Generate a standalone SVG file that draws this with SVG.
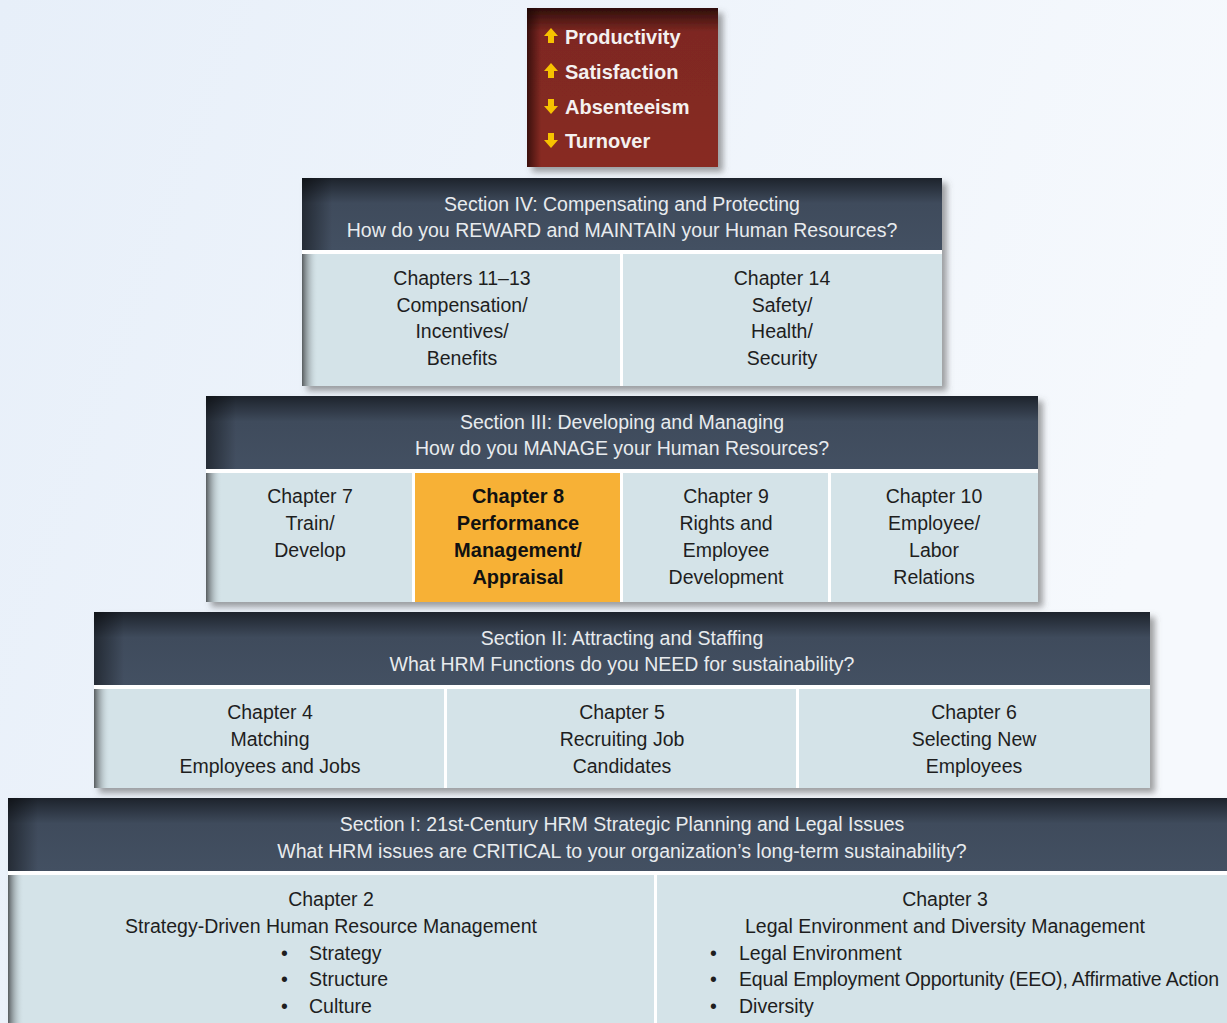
<svg xmlns="http://www.w3.org/2000/svg" width="1227" height="1023" viewBox="0 0 1227 1023">
<defs>
<linearGradient id="bg" x1="0" y1="0" x2="1" y2="0.3">
<stop offset="0" stop-color="#e7eff9"/>
<stop offset="1" stop-color="#f6f9fd"/>
</linearGradient>
<linearGradient id="hdrV" x1="0" y1="0" x2="0" y2="1">
<stop offset="0" stop-color="#1d232c"/>
<stop offset="0.35" stop-color="#3f4b5c"/>
<stop offset="1" stop-color="#435062"/>
</linearGradient>
<linearGradient id="hdrL" x1="0" y1="0" x2="1" y2="0">
<stop offset="0" stop-color="#000" stop-opacity="0.45"/>
<stop offset="1" stop-color="#000" stop-opacity="0"/>
</linearGradient>
<linearGradient id="cellL" x1="0" y1="0" x2="1" y2="0">
<stop offset="0" stop-color="#575c5f" stop-opacity="1"/>
<stop offset="1" stop-color="#d4e3e8" stop-opacity="0"/>
</linearGradient>
<linearGradient id="redV" x1="0" y1="0" x2="0" y2="1">
<stop offset="0" stop-color="#2e0e0b"/>
<stop offset="0.15" stop-color="#7e2822"/>
<stop offset="1" stop-color="#882a24"/>
</linearGradient>
<linearGradient id="redL" x1="0" y1="0" x2="1" y2="0">
<stop offset="0" stop-color="#1a0504" stop-opacity="0.7"/>
<stop offset="1" stop-color="#1a0504" stop-opacity="0"/>
</linearGradient>
<filter id="sh" x="-5%" y="-5%" width="115%" height="120%">
<feDropShadow dx="5" dy="5" stdDeviation="3" flood-color="#555" flood-opacity="0.55"/>
</filter>
<path id="up" d="M0,-8 L7,0 L3,0 L3,7 L-3,7 L-3,0 L-7,0 Z"/>
<path id="down" d="M0,8 L7,0 L3,0 L3,-7 L-3,-7 L-3,0 L-7,0 Z"/>
</defs>
<style>
.hdr{font-family:"Liberation Sans",Arial,sans-serif;font-size:19.5px;fill:#e8ebee;text-anchor:middle}
.cell{font-family:"Liberation Sans",Arial,sans-serif;font-size:19.5px;fill:#1e1e1e;text-anchor:middle}
.lft{font-family:"Liberation Sans",Arial,sans-serif;font-size:19.5px;fill:#1e1e1e}
.bold{font-family:"Liberation Sans",Arial,sans-serif;font-size:20px;font-weight:bold;fill:#111;text-anchor:middle}
.red{font-family:"Liberation Sans",Arial,sans-serif;font-size:20px;font-weight:bold;fill:#f4f1f0}
.cbg{fill:#d4e3e8}
.hb{fill:url(#hdrV)}
.hl{fill:url(#hdrL)}
.cl{fill:url(#cellL)}
.arr{fill:#f7c200}
</style>
<rect width="1227" height="1023" fill="url(#bg)"/>
<g id="connectors"/>

<g id="outcomes">
<rect x="527" y="8" width="191" height="159" fill="url(#redV)" filter="url(#sh)"/>
<rect x="527" y="8" width="14" height="159" fill="url(#redL)"/>
<use href="#up" class="arr" x="551" y="36"/>
<text class="red" x="565" y="44">Productivity</text>
<use href="#up" class="arr" x="551" y="71"/>
<text class="red" x="565" y="79">Satisfaction</text>
<use href="#down" class="arr" x="551" y="106"/>
<text class="red" x="565" y="114">Absenteeism</text>
<use href="#down" class="arr" x="551" y="140"/>
<text class="red" x="565" y="148">Turnover</text>
</g>

<g id="section4">
<rect x="302" y="178" width="640" height="208" fill="#fff" filter="url(#sh)"/>
<rect x="302" y="178" width="640" height="72" class="hb"/>
<rect x="302" y="178" width="30" height="72" class="hl"/>
<text class="hdr" x="622" y="211">Section IV: Compensating and Protecting</text>
<text class="hdr" x="622" y="237">How do you REWARD and MAINTAIN your Human Resources?</text>
<g id="ch11-13">
<rect x="302" y="254" width="318" height="132" class="cbg"/>
<rect x="302" y="254" width="16" height="132" class="cl"/>
<text class="cell" x="462" y="285">Chapters 11–13</text>
<text class="cell" x="462" y="312">Compensation/</text>
<text class="cell" x="462" y="338">Incentives/</text>
<text class="cell" x="462" y="365">Benefits</text>
</g>
<g id="ch14">
<rect x="623" y="254" width="319" height="132" class="cbg"/>
<text class="cell" x="782" y="285">Chapter 14</text>
<text class="cell" x="782" y="312">Safety/</text>
<text class="cell" x="782" y="338">Health/</text>
<text class="cell" x="782" y="365">Security</text>
</g>
</g>

<g id="section3">
<rect x="206" y="396" width="832" height="206" fill="#fff" filter="url(#sh)"/>
<rect x="206" y="396" width="832" height="73" class="hb"/>
<rect x="206" y="396" width="30" height="73" class="hl"/>
<text class="hdr" x="622" y="429">Section III: Developing and Managing</text>
<text class="hdr" x="622" y="455">How do you MANAGE your Human Resources?</text>
<g id="ch7">
<rect x="206" y="473" width="206" height="129" class="cbg"/>
<rect x="206" y="473" width="16" height="129" class="cl"/>
<text class="cell" x="310" y="503">Chapter 7</text>
<text class="cell" x="310" y="530">Train/</text>
<text class="cell" x="310" y="557">Develop</text>
</g>
<g id="ch8">
<rect x="415" y="473" width="205" height="129" fill="#f7b136"/>
<text class="bold" x="518" y="503">Chapter 8</text>
<text class="bold" x="518" y="530">Performance</text>
<text class="bold" x="518" y="557">Management/</text>
<text class="bold" x="518" y="584">Appraisal</text>
</g>
<g id="ch9">
<rect x="623" y="473" width="205" height="129" class="cbg"/>
<text class="cell" x="726" y="503">Chapter 9</text>
<text class="cell" x="726" y="530">Rights and</text>
<text class="cell" x="726" y="557">Employee</text>
<text class="cell" x="726" y="584">Development</text>
</g>
<g id="ch10">
<rect x="831" y="473" width="207" height="129" class="cbg"/>
<text class="cell" x="934" y="503">Chapter 10</text>
<text class="cell" x="934" y="530">Employee/</text>
<text class="cell" x="934" y="557">Labor</text>
<text class="cell" x="934" y="584">Relations</text>
</g>
</g>

<g id="section2">
<rect x="94" y="612" width="1056" height="176" fill="#fff" filter="url(#sh)"/>
<rect x="94" y="612" width="1056" height="73" class="hb"/>
<rect x="94" y="612" width="30" height="73" class="hl"/>
<text class="hdr" x="622" y="645">Section II: Attracting and Staffing</text>
<text class="hdr" x="622" y="671">What HRM Functions do you NEED for sustainability?</text>
<g id="ch4">
<rect x="94" y="689" width="350" height="99" class="cbg"/>
<rect x="94" y="689" width="16" height="99" class="cl"/>
<text class="cell" x="270" y="719">Chapter 4</text>
<text class="cell" x="270" y="746">Matching</text>
<text class="cell" x="270" y="773">Employees and Jobs</text>
</g>
<g id="ch5">
<rect x="447" y="689" width="349" height="99" class="cbg"/>
<text class="cell" x="622" y="719">Chapter 5</text>
<text class="cell" x="622" y="746">Recruiting Job</text>
<text class="cell" x="622" y="773">Candidates</text>
</g>
<g id="ch6">
<rect x="799" y="689" width="351" height="99" class="cbg"/>
<text class="cell" x="974" y="719">Chapter 6</text>
<text class="cell" x="974" y="746">Selecting New</text>
<text class="cell" x="974" y="773">Employees</text>
</g>
</g>

<g id="section1">
<rect x="8" y="798" width="1230" height="230" fill="#fff" filter="url(#sh)"/>
<rect x="8" y="798" width="1230" height="73" class="hb"/>
<rect x="8" y="798" width="30" height="73" class="hl"/>
<text class="hdr" x="622" y="831">Section I: 21st-Century HRM Strategic Planning and Legal Issues</text>
<text class="hdr" x="622" y="858">What HRM issues are CRITICAL to your organization’s long-term sustainability?</text>
<g id="ch2">
<rect x="8" y="875" width="646" height="150" class="cbg"/>
<rect x="8" y="875" width="16" height="150" class="cl"/>
<text class="cell" x="331" y="906">Chapter 2</text>
<text class="cell" x="331" y="933">Strategy-Driven Human Resource Management</text>
<text class="lft" x="281" y="960">•</text>
<text class="lft" x="309" y="960">Strategy</text>
<text class="lft" x="281" y="986">•</text>
<text class="lft" x="309" y="986">Structure</text>
<text class="lft" x="281" y="1013">•</text>
<text class="lft" x="309" y="1013">Culture</text>
</g>
<g id="ch3">
<rect x="657" y="875" width="580" height="150" class="cbg"/>
<text class="cell" x="945" y="906">Chapter 3</text>
<text class="cell" x="945" y="933">Legal Environment and Diversity Management</text>
<text class="lft" x="710" y="960">•</text>
<text class="lft" x="739" y="960">Legal Environment</text>
<text class="lft" x="710" y="986">•</text>
<text class="lft" x="739" y="986" textLength="480">Equal Employment Opportunity (EEO), Affirmative Action</text>
<text class="lft" x="710" y="1013">•</text>
<text class="lft" x="739" y="1013">Diversity</text>
</g>
</g>
</svg>
